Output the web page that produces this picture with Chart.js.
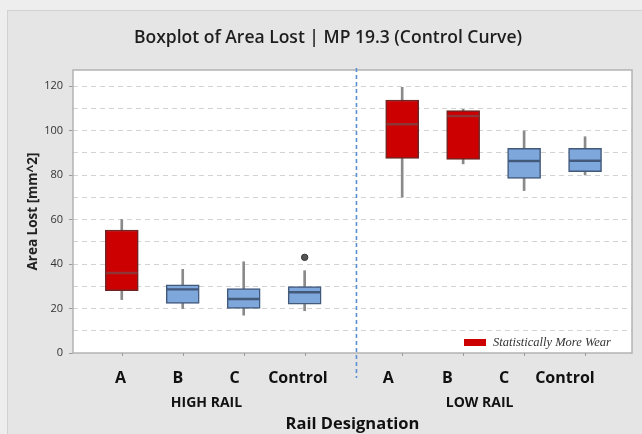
<!DOCTYPE html>
<html>
<head>
<meta charset="utf-8">
<script src="https://cdn.jsdelivr.net/npm/chart.js@4.4.1/dist/chart.umd.min.js"></script>
<style>
html,body{margin:0;padding:0;background:#e5e5e5;}
canvas{display:block;}
</style>
</head>
<body>
<canvas id="c" width="642" height="434"></canvas>
<script>
// ---- data ----
const categories  = ['A', 'B', 'C', 'Control', 'A', 'B', 'C', 'Control'];
const groups      = ['HIGH RAIL', 'LOW RAIL'];
const whiskerLow  = [24, 20, 17, 19, 70, 85, 73, 80];
const q1          = [28, 22.3, 20, 22, 87.5, 87, 78.5, 81.5];
const median      = [36, 28.6, 24.3, 27.3, 102.8, 106.5, 86.3, 86.4];
const q3          = [55.3, 30.6, 28.9, 29.8, 113.7, 109, 92, 92];
const whiskerHigh = [60, 37.6, 41, 37, 119.4, 109.5, 99.8, 97.2];
const outliers    = [[], [], [], [43], [], [], [], []];
const moreWear    = [true, false, false, false, true, true, false, false];
const yTicks      = [0, 10, 20, 30, 40, 50, 60, 70, 80, 90, 100, 110, 120];
const legendText  = 'Statistically More Wear';

// ---- layout (axis units on the category axis) ----
const GROUP_GAP = 0.6;
const pos = i => 1 + i + (i >= 4 ? GROUP_GAP : 0);
const LABEL_SHIFT = [-0.02, -0.08, -0.15, -0.11, -0.23, -0.26, -0.33, -0.33];
const GROUP_POS = [2.39, 6.87];
const SEPARATOR = 4.85;
const X_MIN = 0.2, X_MAX = 9.37;

const RED = '#cc0000', RED_EDGE = '#6e2626', RED_MED = '#8e3434';
const BLUE = '#7ea7dc', BLUE_EDGE = '#42597a', BLUE_MED = '#42597a';

const FONT = '"Open Sans", "Liberation Sans", sans-serif';

const boxData = categories.map((c, i) => ({x: pos(i), y: [q1[i], q3[i]]}));
const whiskerData = categories.map((c, i) => ({x: pos(i), y: [whiskerLow[i], whiskerHigh[i]]}));
const medianData = categories.map((c, i) => ({x: pos(i), y: [median[i] - 0.4, median[i] + 0.4]}));
const outlierData = [];
outliers.forEach((arr, i) => arr.forEach(v => outlierData.push({x: pos(i), y: v})));

const decor = {
  id: 'decor',
  beforeDraw(chart) {
    const {ctx, chartArea: a} = chart;
    ctx.save();
    ctx.fillStyle = '#eeeeee';
    ctx.fillRect(0, 0, chart.width, chart.height);
    ctx.fillStyle = '#e5e5e5';
    ctx.fillRect(7, 10, chart.width - 7, chart.height - 10);
    ctx.strokeStyle = '#d2d2d2';
    ctx.lineWidth = 1;
    ctx.strokeRect(7.5, 10.5, chart.width, chart.height);
    ctx.fillStyle = '#ffffff';
    ctx.fillRect(a.left, a.top, a.right - a.left, a.bottom - a.top);
    ctx.restore();
  },
  afterDatasetsDraw(chart) {
    const {ctx, chartArea: a, scales} = chart;
    const xs = scales.x;
    ctx.save();
    // plot frame
    ctx.strokeStyle = '#b3b3b3';
    ctx.lineWidth = 1.5;
    ctx.strokeRect(a.left, a.top, a.right - a.left, a.bottom - a.top);
    // small tick marks at box centres
    ctx.strokeStyle = '#9a9a9a';
    ctx.lineWidth = 1;
    categories.forEach((c, i) => {
      const px = Math.round(xs.getPixelForValue(pos(i))) + 0.5;
      ctx.beginPath();
      ctx.moveTo(px, a.bottom);
      ctx.lineTo(px, a.bottom + 3);
      ctx.stroke();
    });
    // dashed separator between HIGH and LOW rail
    const sx = xs.getPixelForValue(SEPARATOR);
    ctx.strokeStyle = '#5b8fd3';
    ctx.lineWidth = 1.6;
    ctx.setLineDash([4, 3]);
    ctx.beginPath();
    ctx.moveTo(sx, a.top - 2);
    ctx.lineTo(sx, a.bottom + 25);
    ctx.stroke();
    ctx.setLineDash([]);
    // legend
    const lx = a.right - 168, ly = a.bottom - 14;
    ctx.fillStyle = RED;
    ctx.fillRect(lx, ly, 22, 7);
    ctx.fillStyle = '#333333';
    ctx.font = 'italic 12.5px "Liberation Serif", "DejaVu Serif", serif';
    ctx.textBaseline = 'middle';
    ctx.textAlign = 'left';
    ctx.fillText(legendText, lx + 29, ly + 3.5);
    ctx.restore();
  }
};

new Chart(document.getElementById('c'), {
  type: 'bar',
  data: {
    datasets: [
      {
        label: 'median',
        data: medianData,
        backgroundColor: moreWear.map(m => m ? RED_MED : BLUE_MED),
        borderWidth: 0,
        barThickness: 31,
        grouped: false,
        order: 1
      },
      {
        label: 'box',
        data: boxData,
        backgroundColor: moreWear.map(m => m ? RED : BLUE),
        borderColor: moreWear.map(m => m ? RED_EDGE : BLUE_EDGE),
        borderWidth: 1.5,
        borderSkipped: false,
        barThickness: 33,
        grouped: false,
        order: 2
      },
      {
        label: 'whisker',
        data: whiskerData,
        backgroundColor: '#8a8a8a',
        borderWidth: 0,
        barThickness: 2,
        grouped: false,
        order: 3
      },
      {
        type: 'scatter',
        label: 'outlier',
        data: outlierData,
        pointStyle: 'circle',
        pointRadius: 3.2,
        backgroundColor: '#555555',
        borderColor: '#333333',
        borderWidth: 1,
        order: 0
      }
    ]
  },
  options: {
    responsive: false,
    animation: false,
    events: [],
    layout: {padding: {left: 24, right: 10, top: 0, bottom: 0}},
    plugins: {
      legend: {display: false},
      tooltip: {enabled: false},
      title: {
        display: true,
        text: 'Boxplot of Area Lost | MP 19.3 (Control Curve)',
        color: '#1e1e1e',
        font: {family: FONT, size: 17.5, weight: '600'},
        padding: {top: 27.5, bottom: 21.5}
      }
    },
    scales: {
      x: {
        type: 'linear',
        min: X_MIN,
        max: X_MAX,
        offset: false,
        weight: 0,
        grid: {display: false},
        border: {display: false},
        afterBuildTicks: s => { s.ticks = categories.map((c, i) => ({value: pos(i) + LABEL_SHIFT[i]})); },
        afterFit: s => { s.height = 30; },
        ticks: {
          autoSkip: false,
          maxRotation: 0,
          padding: 8,
          color: '#111111',
          font: {family: FONT, size: 16, weight: 'bold'},
          callback: (v, i) => categories[i]
        }
      },
      x2: {
        type: 'linear',
        position: 'bottom',
        min: X_MIN,
        max: X_MAX,
        offset: false,
        weight: 1,
        grid: {display: false},
        border: {display: false},
        afterBuildTicks: s => { s.ticks = GROUP_POS.map(v => ({value: v})); },
        afterFit: s => { s.height = 51; },
        ticks: {
          autoSkip: false,
          maxRotation: 0,
          padding: 4,
          color: '#111111',
          font: {family: FONT, size: 14, weight: 'bold'},
          callback: (v, i) => groups[i]
        },
        title: {
          display: true,
          text: 'Rail Designation',
          color: '#111111',
          font: {family: FONT, size: 16.5, weight: 'bold'},
          padding: {top: 0, bottom: 0}
        }
      },
      y: {
        min: 0,
        max: 127.2,
        afterBuildTicks: s => { s.ticks = yTicks.map(v => ({value: v})); },
        afterFit: s => { s.width = 49; },
        grid: {
          color: ctx => (ctx.tick && ctx.tick.value === 0) ? 'rgba(0,0,0,0)' : '#d3d3d3',
          tickColor: ctx => (ctx.tick && ctx.tick.value % 20 === 0) ? '#9a9a9a' : 'rgba(0,0,0,0)',
          tickLength: 4,
          lineWidth: 1
        },
        border: {display: false, dash: [5, 4]},
        ticks: {
          padding: 6,
          color: '#333333',
          font: {family: FONT, size: 11},
          callback: v => (v % 20 === 0 ? v : '')
        },
        title: {
          display: true,
          text: 'Area Lost [mm^2]',
          color: '#222222',
          font: {family: FONT, size: 13.5, weight: 'bold'},
          padding: {top: 1, bottom: 0}
        }
      }
    }
  },
  plugins: [decor]
});
</script>
</body>
</html>
